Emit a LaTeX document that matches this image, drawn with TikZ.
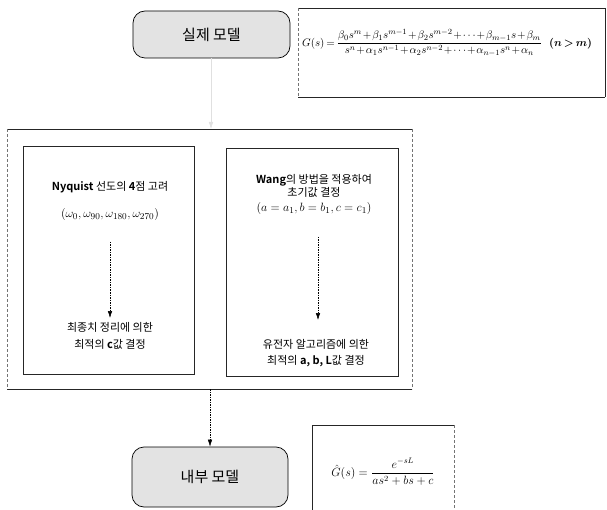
\documentclass[tikz,border=0pt]{standalone}
\usepackage{fontspec}
\usepackage{amsmath}
\newfontfamily\kr{Noto Sans CJK KR}[BoldFont={Noto Sans CJK KR Bold}]
\usetikzlibrary{arrows.meta}
\begin{document}
\begin{tikzpicture}[x=1pt,y=-1pt,
  model/.style={draw=black, line width=0.7pt, fill=gray!22, rounded corners=12pt,
    minimum width=157pt, minimum height=47pt, inner sep=0pt,
    font=\kr\fontsize{15}{17}\selectfont},
  txt/.style={align=center, inner sep=1pt, font=\kr\fontsize{11}{13.5}\selectfont},
  mth/.style={inner sep=1pt, font=\fontsize{12.5}{14}\selectfont},
  frame/.style={draw=black!85, line width=0.6pt},
  sidedot/.style={draw=black!55, line width=0.6pt, densely dashed},
  tip/.style={-{Latex[length=7pt,width=4.5pt]}},
  dasharrow/.style={tip, draw=black, line width=0.5pt, dash pattern=on 1.5pt off 1pt}
]
\useasboundingbox (0,0) rectangle (607,510);

% top model
\node[model] (real) at (211.5,34.5) {실제 모델};
% top formula frame
\coordinate (tf1) at (298,8);
\coordinate (tf2) at (605,97);
\draw[frame] (tf1) -- (605,8);
\draw[frame] (298,97) -- (tf2);
\draw[frame] (605,8) -- (tf2);
\draw[sidedot] (tf1) -- (298,97);
\node[inner sep=0pt, anchor=west, font=\fontsize{11}{13}\selectfont] (gs) at (302,43)
 {\medmuskip=1.5mu\thickmuskip=3mu$G(s)=\dfrac{\beta_0 s^m+\beta_1 s^{m-1}+\beta_2 s^{m-2}+\cdots+\beta_{m-1}s+\beta_m}{s^n+\alpha_1 s^{n-1}+\alpha_2 s^{n-2}+\cdots+\alpha_{n-1}s^n+\alpha_n}$\ \ {\boldmath$(n>m)$}};

% outer box
\coordinate (o1) at (7,129);
\coordinate (o2) at (412,389);
\node[inner sep=0pt, minimum width=405pt, minimum height=260pt] (outer) at (209.5,259) {};
\draw[frame] (o1) -- (412,129);
\draw[frame] (7,389) -- (o2);
\draw[sidedot] (o1) -- (7,389);
\draw[sidedot] (412,129) -- (o2);

% inner left box
\draw[frame] (23,146) rectangle (194,374);
\node[txt] (n1) at (110,187) {\textbf{Nyquist} 선도의 \textbf{4}점 고려};
\node[mth] (n2) at (110,215) {$(\omega_0,\omega_{90},\omega_{180},\omega_{270})$};
\node[txt, font=\kr\fontsize{11}{17}\selectfont] (n3) at (110,336) {최종치 정리에 의한\\최적의 \textbf{c}값 결정};

% inner right box
\node[txt] (r1) at (314,186) {\textbf{Wang}의 방법을 적용하여\\초기값 결정};
\draw[frame] (226,148) rectangle (398,376);
\node[mth] (r2) at (314,209) {$(a=a_1,b=b_1,c=c_1)$};
\node[txt, font=\kr\fontsize{11}{16}\selectfont] (r3) at (316,353) {유전자 알고리즘에 의한\\최적의 \textbf{a, b, L}값 결정};

% inner arrows
\coordinate (la1) at (110,242);
\coordinate (la2) at (110,318);
\draw[dasharrow] (la1) -- (la2);
\coordinate (ra1) at (318,237);
\coordinate (ra2) at (318,320);
\draw[dasharrow] (ra1) -- (ra2);

% bottom model
\node[model, minimum height=60pt, minimum width=156pt] (inner) at (210,477) {내부 모델};
% bottom formula frame
\coordinate (bf1) at (312,425);
\coordinate (bf2) at (454,425);
\draw[frame] (312,512) -- (bf1) -- (bf2);
\draw[sidedot] (bf2) -- (454,512);
\node[inner sep=0pt, font=\fontsize{12}{14}\selectfont] (gh) at (383,472)
 {$\hat{G}(s)=\dfrac{e^{-sL}}{as^2+bs+c}$};

% connectors
\draw[tip, draw=black!12, line width=0.5pt] (real.south -| 211,0) -- (211,129);
\draw[dasharrow] (210,389) -- (inner.north -| 210,0);
\end{tikzpicture}
\end{document}
